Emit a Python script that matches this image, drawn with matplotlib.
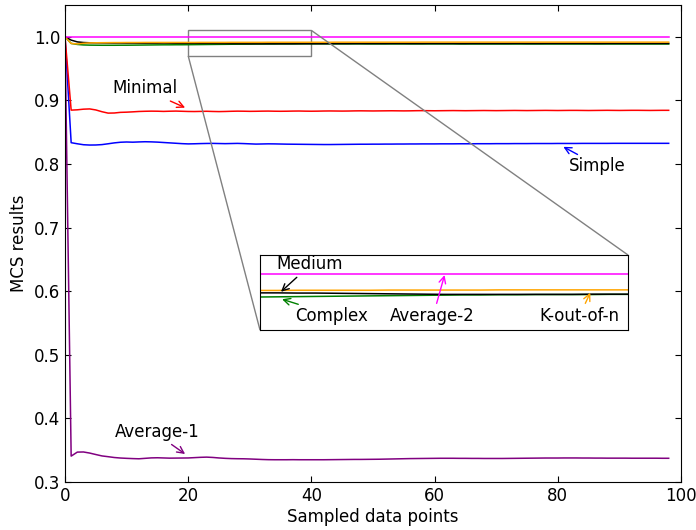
import numpy as np
import matplotlib
matplotlib.use("Agg")
import matplotlib.pyplot as plt
from mpl_toolkits.axes_grid1.inset_locator import mark_inset

# ---------------------------------------------------------
# DATA (x = 0 .. 98)
# ---------------------------------------------------------

x = np.arange(99)

simple = [
    1.0,
    0.8335, 0.8318, 0.8303, 0.8298, 0.8299, 0.8305, 0.8318, 0.8332, 0.8342, 0.8346,
    0.8343, 0.8347, 0.8350, 0.8348, 0.8344, 0.8338, 0.8332, 0.8326, 0.8320, 0.8316,
    0.8318, 0.8321, 0.8323, 0.8324, 0.8322, 0.8320, 0.8322, 0.8324, 0.8321, 0.8317,
    0.8313, 0.8315, 0.8317, 0.8316, 0.8314, 0.8312, 0.8311, 0.8310, 0.8309, 0.8308,
    0.8307, 0.8306, 0.8306, 0.8307, 0.8308, 0.8309, 0.8310, 0.8311, 0.8311, 0.8312,
    0.8312, 0.8313, 0.8313, 0.8314, 0.8314, 0.8315, 0.8315, 0.8316, 0.8316, 0.8316,
    0.8317, 0.8317, 0.8317, 0.8318, 0.8318, 0.8318, 0.8319, 0.8319, 0.8319, 0.8320,
    0.8320, 0.8320, 0.8321, 0.8321, 0.8321, 0.8322, 0.8322, 0.8322, 0.8322, 0.8323,
    0.8323, 0.8323, 0.8323, 0.8324, 0.8324, 0.8324, 0.8324, 0.8324, 0.8325, 0.8325,
    0.8325, 0.8325, 0.8325, 0.8325, 0.8325, 0.8325, 0.8325, 0.8325,
]

minimal = [
    1.0,
    0.8847, 0.8852, 0.8862, 0.8866, 0.8850, 0.8822, 0.8800, 0.8802, 0.8812, 0.8815,
    0.8820, 0.8826, 0.8829, 0.8831, 0.8830, 0.8827, 0.8830, 0.8832, 0.8829, 0.8826,
    0.8825, 0.8827, 0.8829, 0.8826, 0.8824, 0.8826, 0.8829, 0.8831, 0.8830, 0.8828,
    0.8829, 0.8831, 0.8832, 0.8830, 0.8829, 0.8830, 0.8832, 0.8833, 0.8831, 0.8830,
    0.8831, 0.8833, 0.8834, 0.8833, 0.8832, 0.8833, 0.8835, 0.8836, 0.8835, 0.8834,
    0.8835, 0.8836, 0.8837, 0.8836, 0.8835, 0.8836, 0.8838, 0.8839, 0.8838, 0.8837,
    0.8838, 0.8839, 0.8840, 0.8839, 0.8838, 0.8839, 0.8840, 0.8841, 0.8840, 0.8839,
    0.8840, 0.8841, 0.8842, 0.8841, 0.8840, 0.8841, 0.8842, 0.8843, 0.8842, 0.8841,
    0.8842, 0.8843, 0.8843, 0.8842, 0.8841, 0.8842, 0.8843, 0.8844, 0.8843, 0.8842,
    0.8843, 0.8844, 0.8844, 0.8843, 0.8842, 0.8843, 0.8844, 0.8844,
]

average_1 = [
    1.0,
    0.3407, 0.3470, 0.3472, 0.3455, 0.3432, 0.3410, 0.3398, 0.3385, 0.3377, 0.3372,
    0.3368, 0.3365, 0.3372, 0.3379, 0.3381, 0.3378, 0.3375, 0.3376, 0.3377, 0.3378,
    0.3383, 0.3388, 0.3391, 0.3386, 0.3378, 0.3372, 0.3368, 0.3366, 0.3365, 0.3362,
    0.3358, 0.3354, 0.3351, 0.3350, 0.3350, 0.3350, 0.3351, 0.3350, 0.3350, 0.3350,
    0.3350, 0.3350, 0.3351, 0.3352, 0.3353, 0.3354, 0.3355, 0.3355, 0.3356, 0.3357,
    0.3358, 0.3360, 0.3362, 0.3364, 0.3366, 0.3368, 0.3369, 0.3370, 0.3371, 0.3372,
    0.3373, 0.3373, 0.3373, 0.3372, 0.3372, 0.3371, 0.3371, 0.3370, 0.3370, 0.3370,
    0.3370, 0.3371, 0.3372, 0.3373, 0.3374, 0.3375, 0.3376, 0.3377, 0.3377, 0.3377,
    0.3378, 0.3378, 0.3378, 0.3377, 0.3377, 0.3376, 0.3376, 0.3375, 0.3375, 0.3375,
    0.3375, 0.3374, 0.3374, 0.3374, 0.3374, 0.3374, 0.3373, 0.3373,
]

medium = [
    1.0,
    0.9948, 0.9920, 0.9910, 0.9906, 0.9905, 0.9904, 0.9903, 0.9902, 0.9902, 0.9901,
    0.9901, 0.9900, 0.9900, 0.9900, 0.9900, 0.9901, 0.9900, 0.9899, 0.9898, 0.9898,
    0.9898, 0.9897, 0.9897, 0.9896, 0.9895, 0.9894, 0.9893, 0.9892, 0.9891, 0.9890,
    0.9890, 0.9890, 0.9890, 0.9890, 0.9890, 0.9890, 0.9890, 0.9891, 0.9891, 0.9891,
    0.9891, 0.9891, 0.9892, 0.9892, 0.9892, 0.9892, 0.9893, 0.9893, 0.9893, 0.9893,
    0.9893, 0.9893, 0.9894, 0.9894, 0.9894, 0.9893, 0.9893, 0.9893, 0.9894, 0.9894,
    0.9894, 0.9894, 0.9894, 0.9893, 0.9893, 0.9894, 0.9894, 0.9894, 0.9894, 0.9894,
    0.9894, 0.9894, 0.9895, 0.9895, 0.9894, 0.9894, 0.9894, 0.9895, 0.9895, 0.9895,
    0.9895, 0.9895, 0.9895, 0.9895, 0.9895, 0.9894, 0.9894, 0.9895, 0.9895, 0.9895,
    0.9895, 0.9895, 0.9895, 0.9895, 0.9895, 0.9895, 0.9895, 0.9895,
]

complex_ = [
    1.0,
    0.9896, 0.9880, 0.9872, 0.9869, 0.9868, 0.9867, 0.9867, 0.9867, 0.9868, 0.9868,
    0.9869, 0.9870, 0.9871, 0.9872, 0.9873, 0.9874, 0.9874, 0.9875, 0.9875, 0.9876,
    0.9877, 0.9878, 0.9879, 0.9880, 0.9881, 0.9882, 0.9883, 0.9884, 0.9885, 0.9886,
    0.9887, 0.9887, 0.9888, 0.9888, 0.9889, 0.9889, 0.9889, 0.9889, 0.9890, 0.9890,
    0.9890, 0.9890, 0.9889, 0.9889, 0.9889, 0.9889, 0.9889, 0.9889, 0.9888, 0.9888,
    0.9888, 0.9888, 0.9888, 0.9888, 0.9888, 0.9888, 0.9888, 0.9888, 0.9888, 0.9888,
    0.9888, 0.9888, 0.9888, 0.9887, 0.9887, 0.9887, 0.9887, 0.9887, 0.9887, 0.9887,
    0.9887, 0.9887, 0.9887, 0.9887, 0.9887, 0.9887, 0.9887, 0.9887, 0.9887, 0.9887,
    0.9887, 0.9887, 0.9887, 0.9887, 0.9887, 0.9887, 0.9887, 0.9887, 0.9887, 0.9887,
    0.9887, 0.9887, 0.9887, 0.9887, 0.9887, 0.9887, 0.9887, 0.9887,
]

k_out_of_n = [
    1.0,
    0.9895, 0.9888, 0.9898, 0.9904, 0.9906, 0.9907, 0.9908, 0.9909, 0.9909, 0.9910,
    0.9910, 0.9910, 0.9911, 0.9911, 0.9911, 0.9911, 0.9911, 0.9911, 0.9911, 0.9911,
    0.9911, 0.9912, 0.9912, 0.9912, 0.9912, 0.9912, 0.9913, 0.9913, 0.9913, 0.9913,
    0.9913, 0.9913, 0.9914, 0.9914, 0.9914, 0.9914, 0.9914, 0.9914, 0.9914, 0.9914,
    0.9914, 0.9914, 0.9914, 0.9915, 0.9915, 0.9915, 0.9915, 0.9915, 0.9915, 0.9915,
    0.9915, 0.9915, 0.9915, 0.9915, 0.9915, 0.9915, 0.9915, 0.9916, 0.9916, 0.9916,
    0.9916, 0.9916, 0.9916, 0.9916, 0.9916, 0.9916, 0.9916, 0.9916, 0.9916, 0.9916,
    0.9916, 0.9916, 0.9916, 0.9916, 0.9916, 0.9916, 0.9916, 0.9916, 0.9916, 0.9916,
    0.9916, 0.9916, 0.9916, 0.9916, 0.9916, 0.9916, 0.9916, 0.9916, 0.9916, 0.9916,
    0.9916, 0.9916, 0.9916, 0.9916, 0.9916, 0.9916, 0.9916, 0.9916,
]

# Average-2 stays at 1.0 for every sample
average_2 = [1.0] * 99

series = [
    ("Simple", simple, "blue"),
    ("Minimal", minimal, "red"),
    ("Average-1", average_1, "purple"),
    ("Complex", complex_, "green"),
    ("Medium", medium, "black"),
    ("K-out-of-n", k_out_of_n, "orange"),
    ("Average-2", average_2, "magenta"),
]

# ---------------------------------------------------------
# FIGURE
# ---------------------------------------------------------

plt.rcParams["font.family"] = "DejaVu Sans"
plt.rcParams["font.size"] = 12

fig = plt.figure(figsize=(6.96, 5.30), dpi=100)
ax = fig.add_axes([65 / 696, 48 / 530, 616 / 696, 477 / 530])

for name, vals, col in series:
    ax.plot(x, vals, color=col, linewidth=1.1)

ax.set_xlim(0, 100)
ax.set_ylim(0.3, 1.05)
ax.set_xticks(np.arange(0, 101, 20))
ax.set_yticks(np.arange(0.3, 1.01, 0.1))
ax.tick_params(direction="in", top=True, right=True, length=4, labelsize=12)
ax.set_xlabel("Sampled data points", fontsize=12, labelpad=2)
ax.set_ylabel("MCS results", fontsize=12)

# annotations on the main axes
arrow = dict(arrowstyle="->", linewidth=1.0, shrinkA=0, shrinkB=0)

ax.text(13.0, 0.920, "Minimal", ha="center", va="center", fontsize=12)
ax.annotate("", xy=(19.5, 0.8886), xytext=(17.1, 0.899),
            arrowprops=dict(arrow, color="red"))

ax.text(86.4, 0.797, "Simple", ha="center", va="center", fontsize=12)
ax.annotate("", xy=(80.9, 0.827), xytext=(83.2, 0.815),
            arrowprops=dict(arrow, color="blue"))

ax.text(14.9, 0.379, "Average-1", ha="center", va="center", fontsize=12)
ax.annotate("", xy=(19.5, 0.344), xytext=(17.3, 0.359),
            arrowprops=dict(arrow, color="purple"))

# ---------------------------------------------------------
# ZOOMED INSET
# ---------------------------------------------------------

axins = fig.add_axes([260 / 696, 200 / 530, 368 / 696, 75 / 530])
for name, vals, col in series:
    axins.plot(x, vals, color=col, linewidth=1.1)
axins.set_xlim(20, 40)
axins.set_ylim(0.97, 1.01)
axins.set_xticks([])
axins.set_yticks([])

mark_inset(ax, axins, loc1=1, loc2=3, fc="none", ec="0.5", lw=1.0)

axins.text(22.7, 1.0052, "Medium", ha="center", va="center", fontsize=12)
axins.annotate("", xy=(21.14, 0.9904), xytext=(22.0, 0.9981),
               arrowprops=dict(arrow, color="black"))

axins.text(23.9, 0.9776, "Complex", ha="center", va="center", fontsize=12)
axins.annotate("", xy=(21.2, 0.9864), xytext=(22.08, 0.9837),
               arrowprops=dict(arrow, color="green"))

axins.text(29.34, 0.9776, "Average-2", ha="center", va="center", fontsize=12)
axins.annotate("", xy=(30.03, 0.9993), xytext=(29.6, 0.9842),
               arrowprops=dict(arrow, color="magenta"))

axins.text(37.34, 0.9776, "K-out-of-n", ha="center", va="center", fontsize=12)
axins.annotate("", xy=(37.95, 0.9899), xytext=(37.68, 0.9842),
               arrowprops=dict(arrow, color="orange"))

fig.savefig("out.png", dpi=100)
